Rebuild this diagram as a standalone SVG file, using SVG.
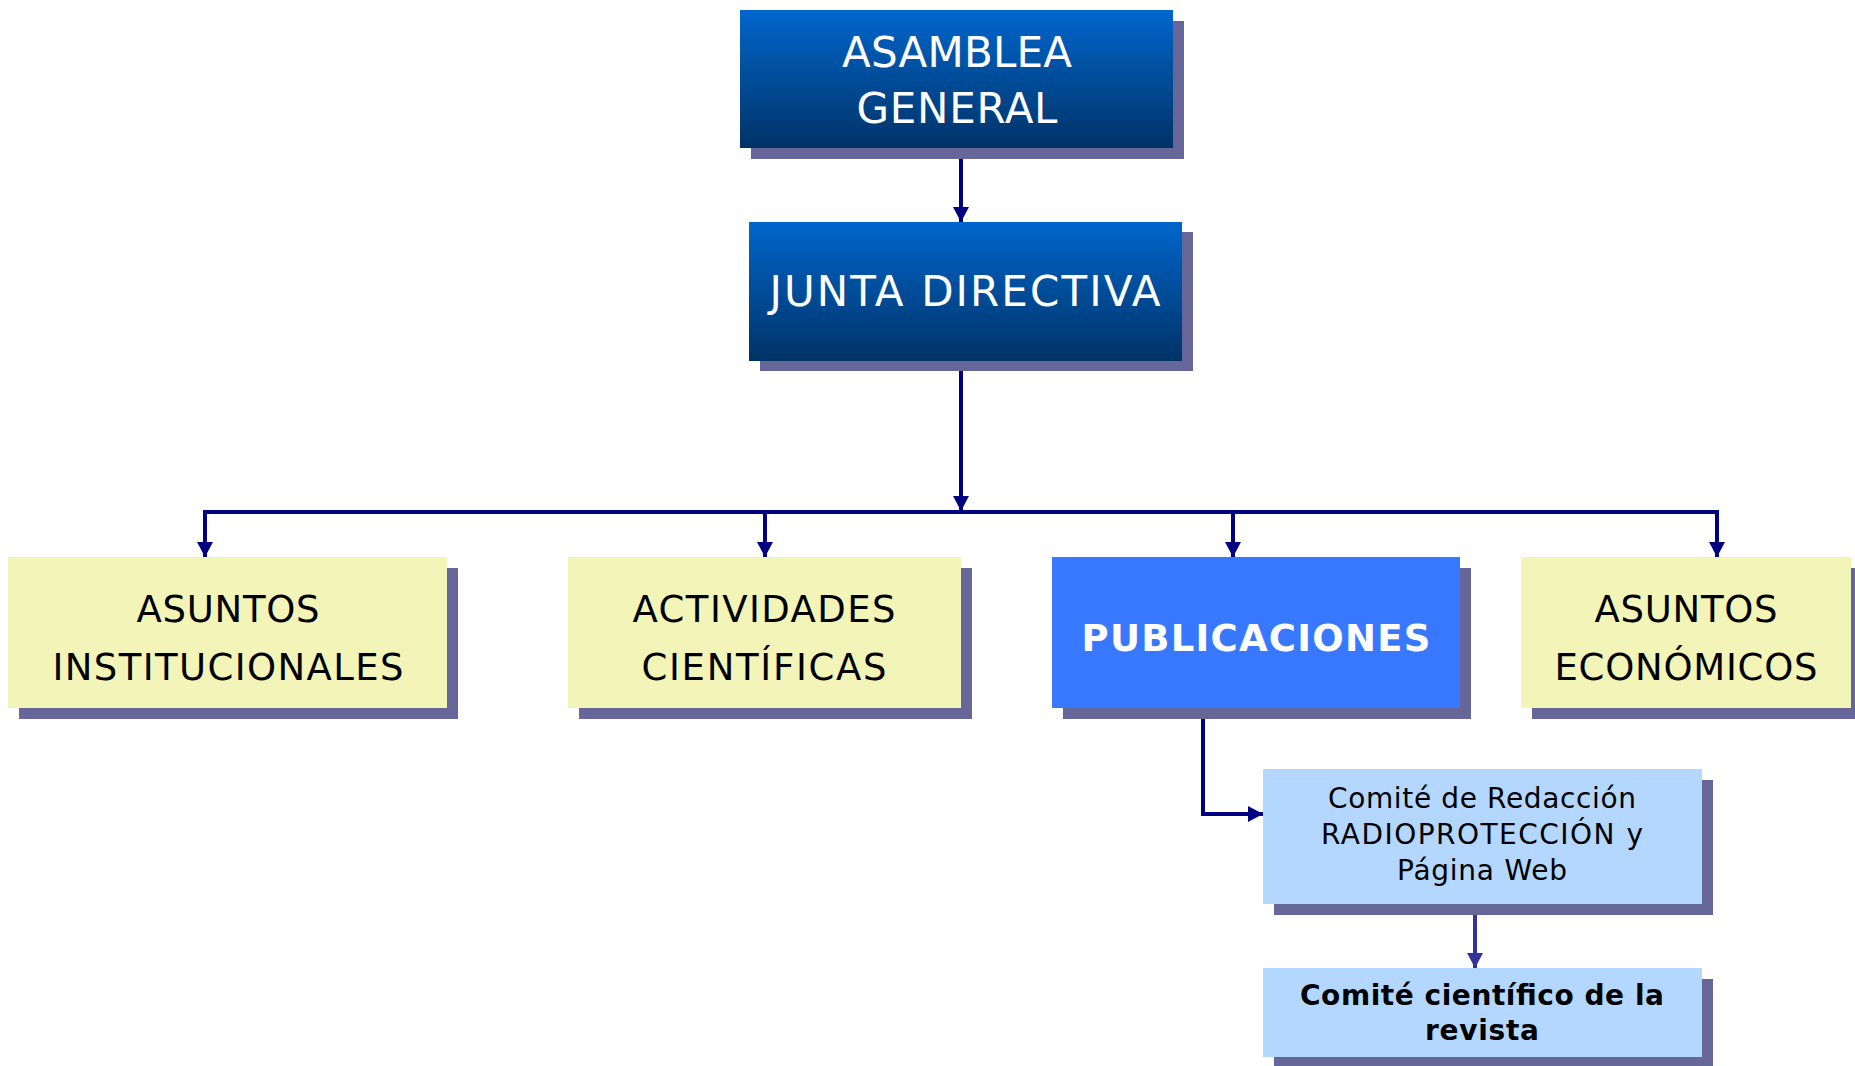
<svg xmlns="http://www.w3.org/2000/svg" width="1855" height="1066" viewBox="0 0 1855 1066">
<style>
text { font-family: "DejaVu Sans", "Liberation Sans", sans-serif; text-anchor: middle; }
.shadow { fill: #666699; }
.dark { fill: url(#blueGrad); }
.yellow { fill: #F3F5B8; }
.pub { fill: #3878FF; }
.light { fill: #B3D7FF; }
.wt { fill: #FFFFFF; font-size: 42px; }
.bt { fill: #000000; font-size: 37px; }
.st { fill: #000000; font-size: 28px; }
.conn { fill: none; stroke: #000080; stroke-width: 4; }
.conn2 { fill: none; stroke: #333399; stroke-width: 4; }
</style>
<defs>
<linearGradient id="blueGrad" x1="0" y1="0" x2="0" y2="1">
<stop offset="0" stop-color="#0066CC"/>
<stop offset="1" stop-color="#003366"/>
</linearGradient>
<marker id="arr" markerUnits="userSpaceOnUse" markerWidth="16" markerHeight="16" refX="15" refY="8" orient="auto" viewBox="0 0 16 16">
<path d="M0,0 L15,8 L0,16 Z" fill="#000080"/>
</marker>
<marker id="arr2" markerUnits="userSpaceOnUse" markerWidth="16" markerHeight="16" refX="15" refY="8" orient="auto" viewBox="0 0 16 16">
<path d="M0,0 L15,8 L0,16 Z" fill="#333399"/>
</marker>
</defs>
<rect width="1855" height="1066" fill="#FFFFFF"/>

<g id="connectors">
<line class="conn" x1="961" y1="148" x2="961" y2="222" marker-end="url(#arr)"/>
<line class="conn" x1="961" y1="361" x2="961" y2="511" marker-end="url(#arr)"/>
<polyline class="conn" points="205,557 205,512 1717,512 1717,557"/>
<line class="conn" x1="205" y1="512" x2="205" y2="557" marker-end="url(#arr)"/>
<line class="conn" x1="765" y1="512" x2="765" y2="557" marker-end="url(#arr)"/>
<line class="conn" x1="1233" y1="512" x2="1233" y2="557" marker-end="url(#arr)"/>
<line class="conn" x1="1717" y1="512" x2="1717" y2="557" marker-end="url(#arr)"/>
<polyline class="conn" points="1203,708 1203,814 1263,814" marker-end="url(#arr)"/>
<line class="conn2" x1="1475" y1="907" x2="1475" y2="968" marker-end="url(#arr2)"/>
</g>

<g id="asamblea">
<rect class="shadow" x="751" y="21" width="433" height="138"/>
<rect class="dark" x="740" y="10" width="433" height="138"/>
<text class="wt" x="957" y="67" textLength="230" lengthAdjust="spacing">ASAMBLEA</text>
<text class="wt" x="957" y="123" textLength="201" lengthAdjust="spacing">GENERAL</text>
</g>

<g id="junta">
<rect class="shadow" x="760" y="232" width="433" height="139"/>
<rect class="dark" x="749" y="222" width="433" height="139"/>
<text class="wt" x="965" y="306" textLength="391" lengthAdjust="spacing">JUNTA DIRECTIVA</text>
</g>

<g id="institucionales">
<rect class="shadow" x="19" y="568" width="439" height="151"/>
<rect class="yellow" x="8" y="557" width="439" height="151"/>
<text class="bt" x="228" y="622" textLength="183" lengthAdjust="spacing">ASUNTOS</text>
<text class="bt" x="228" y="680" textLength="351" lengthAdjust="spacing">INSTITUCIONALES</text>
</g>

<g id="actividades">
<rect class="shadow" x="579" y="568" width="393" height="151"/>
<rect class="yellow" x="568" y="557" width="393" height="151"/>
<text class="bt" x="764" y="622" textLength="263" lengthAdjust="spacing">ACTIVIDADES</text>
<text class="bt" x="764" y="680" textLength="245" lengthAdjust="spacing">CIENTÍFICAS</text>
</g>

<g id="publicaciones">
<rect class="shadow" x="1063" y="568" width="408" height="151"/>
<rect class="pub" x="1052" y="557" width="408" height="151"/>
<text x="1256" y="651" style="fill:#FFFFFF;font-size:37px;font-weight:bold" textLength="349" lengthAdjust="spacing">PUBLICACIONES</text>
</g>

<g id="economicos">
<rect class="shadow" x="1532" y="568" width="330" height="151"/>
<rect class="yellow" x="1521" y="557" width="330" height="151"/>
<text class="bt" x="1686" y="622" textLength="183" lengthAdjust="spacing">ASUNTOS</text>
<text class="bt" x="1686" y="680" textLength="263" lengthAdjust="spacing">ECONÓMICOS</text>
</g>

<g id="redaccion">
<rect class="shadow" x="1274" y="780" width="439" height="135"/>
<rect class="light" x="1263" y="769" width="439" height="135"/>
<text class="st" x="1482" y="808" textLength="308" lengthAdjust="spacing">Comité de Redacción</text>
<text class="st" x="1482" y="844" textLength="322" lengthAdjust="spacing">RADIOPROTECCIÓN y</text>
<text class="st" x="1482" y="880" textLength="170" lengthAdjust="spacing">Página Web</text>
</g>

<g id="cientifico">
<rect class="shadow" x="1274" y="979" width="439" height="100"/>
<rect class="light" x="1263" y="968" width="439" height="89"/>
<text class="st" x="1482" y="1005" style="font-weight:bold" textLength="364" lengthAdjust="spacing">Comité científico de la</text>
<text class="st" x="1482" y="1040" style="font-weight:bold" textLength="114" lengthAdjust="spacing">revista</text>
</g>
</svg>
